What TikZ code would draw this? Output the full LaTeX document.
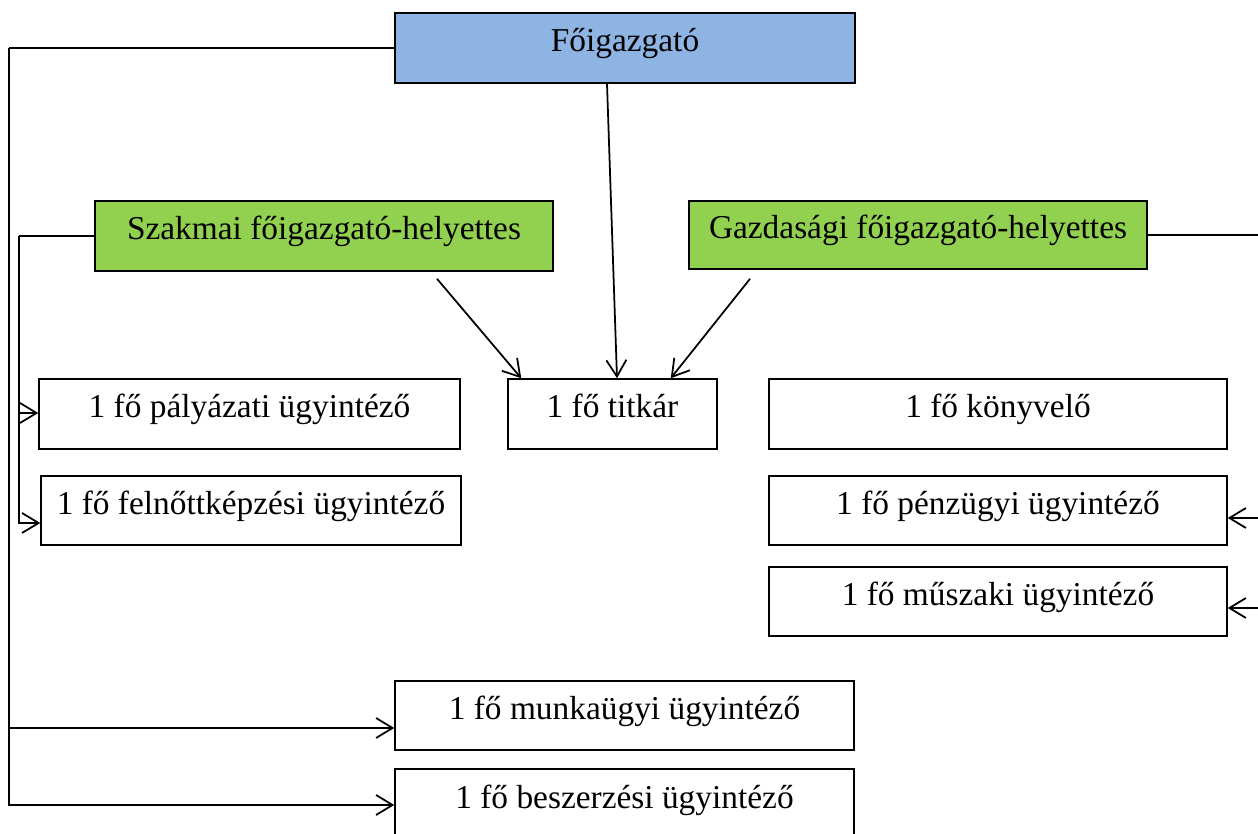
\documentclass[tikz,border=0pt]{standalone}
\usepackage{fontspec}
\setmainfont{Liberation Serif}
\usetikzlibrary{arrows.meta}
\definecolor{vezkek}{HTML}{8DB4E2}
\definecolor{helyzold}{HTML}{92D050}

\begin{document}
\begin{tikzpicture}[x=0.02cm, y=-0.02cm,
    doboz/.style = {draw, line width=0.9pt, minimum height=1.4cm, inner sep=0pt,
                    text height=1.45ex, text depth=0.55ex,
                    font=\fontsize{19}{22}\selectfont},
    vonal/.style = {line width=1pt},
    nyil/.style  = {line width=1pt, -{Straight Barb[length=3.3mm, width=4mm]}}]
    \useasboundingbox (0,0) rectangle (1258,834);
    \clip (0,0) rectangle (1258,834);

    % Vezetok
    \node[doboz, fill=vezkek, minimum width=9.2cm] (fo) at (625,48) {Főigazgató};
    \node[doboz, fill=helyzold, minimum width=9.16cm] (szak) at (324,236) {Szakmai főigazgató-helyettes};
    \node[doboz, fill=helyzold, minimum width=9.16cm, minimum height=1.36cm] (gazd) at (918,235) {Gazdasági főigazgató-helyettes};

    % Munkatarsak
    \node[doboz, minimum width=8.42cm] (palyaz) at (249.5,414) {1 fő pályázati ügyintéző};
    \node[doboz, minimum width=8.4cm, minimum height=1.38cm] (felnott) at (251,510.5) {1 fő felnőttképzési ügyintéző};
    \node[doboz, minimum width=4.18cm] (titkar) at (612.5,414) {1 fő titkár};
    \node[doboz, minimum width=9.16cm] (konyv) at (998,414) {1 fő könyvelő};
    \node[doboz, minimum width=9.16cm, minimum height=1.38cm] (penz) at (998,510.5) {1 fő pénzügyi ügyintéző};
    \node[doboz, minimum width=9.16cm, minimum height=1.38cm] (musz) at (998,601.5) {1 fő műszaki ügyintéző};
    \node[doboz, minimum width=9.18cm, minimum height=1.38cm] (munka) at (624.5,715.5) {1 fő munkaügyi ügyintéző};
    \node[doboz, minimum width=9.18cm, minimum height=1.44cm] (besz) at (624.5,805) {1 fő beszerzési ügyintéző};

    % Foigazgato bal oldali agai
    \coordinate (balA) at (9,48);
    \draw[vonal] (fo.west) -- (balA);
    \draw[nyil] (balA) |- (besz.west);
    \draw[nyil] (balA |- 0,728) -- ([yshift=-0.25cm]munka.west);

    % Szakmai helyettes agai
    \coordinate (balB) at (19,236);
    \draw[vonal] (szak.west) -- (balB);
    \draw[nyil] (balB) |- ([yshift=-0.25cm]felnott.west);
    \draw[nyil] (balB |- 0,413) -- ([yshift=0.02cm]palyaz.west);

    % Gazdasagi helyettes agai
    \coordinate (jobbC) at (1262,235);
    \draw[vonal] (gazd.east) -- (jobbC) -- (jobbC |- 0,608);
    \draw[nyil] (jobbC |- 0,518) -- ([yshift=-0.15cm]penz.east);
    \draw[nyil] (jobbC |- 0,608) -- ([yshift=-0.13cm]musz.east);

    % Titkar
    \draw[nyil] ([xshift=-0.36cm]fo.south) -- ([xshift=0.09cm]titkar.north);
    \draw[nyil] ([xshift=2.26cm, yshift=-0.14cm]szak.south) -- ([xshift=0.28cm]titkar.north west);
    \draw[nyil] ([xshift=-3.36cm, yshift=-0.18cm]gazd.south) -- ([xshift=-0.94cm]titkar.north east);
\end{tikzpicture}
\end{document}
